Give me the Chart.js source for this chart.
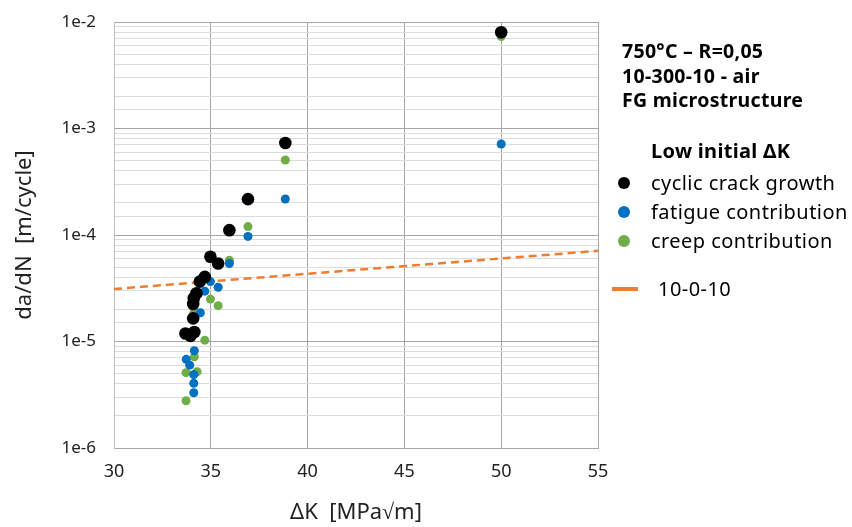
<!DOCTYPE html>
<html>
<head>
<meta charset="utf-8">
<script src="https://cdn.jsdelivr.net/npm/chart.js@4.4.1/dist/chart.umd.min.js"></script>
<style>
  body { margin: 0; background: #fff; font-family: "Noto Sans", sans-serif; }
  #wrap { position: relative; width: 852px; height: 527px; }
  #note { position: absolute; left: 622px; top: 39px; font-weight: bold; font-size: 19.5px; letter-spacing: 0.3px; line-height: 24.5px; color: #000; }
  #legend { position: absolute; left: 612px; top: 136px; font-size: 20px; letter-spacing: 0.45px; color: #000; }
  #legend .head { font-weight: bold; margin-left: 39px; height: 32px; line-height: 29px; letter-spacing: 0.3px; }
  #legend .item { height: 29px; line-height: 29px; display: flex; align-items: center; }
  #legend .dot { width: 12px; height: 12px; border-radius: 50%; margin-left: 6px; margin-right: 21px; }
  #legend .line { width: 26px; height: 4px; margin-top: 1px; margin-right: 20px; }
</style>
</head>
<body>
<div id="wrap">
  <canvas id="chart" width="852" height="527"></canvas>
  <div id="note">750°C – R=0,05<br>10-300-10 - air<br>FG microstructure</div>
  <div id="legend"></div>
</div>
<script>
// ΔK [MPa√m] and da/dN [m/cycle]
const cyclicX = [50.0, 38.85, 36.92, 35.96, 34.98, 35.38, 34.69, 34.43, 34.26, 34.12, 34.09, 34.09, 33.69, 33.95, 34.15];
const cyclicY = [8.0e-3, 7.3e-4, 2.17e-4, 1.11e-4, 6.25e-5, 5.4e-5, 4.04e-5, 3.65e-5, 2.84e-5, 2.55e-5, 2.25e-5, 1.65e-5, 1.19e-5, 1.13e-5, 1.23e-5];

const fatigueX = [50.0, 38.85, 36.92, 35.96, 35.38, 34.98, 34.69, 34.46, 34.15, 33.73, 33.91, 34.12, 34.12, 34.12];
const fatigueY = [7.15e-4, 2.18e-4, 9.7e-5, 5.4e-5, 3.23e-5, 3.65e-5, 2.97e-5, 1.86e-5, 8.2e-6, 6.8e-6, 6.0e-6, 4.9e-6, 4.05e-6, 3.3e-6];

const creepX = [50.0, 38.85, 36.92, 35.96, 35.38, 34.98, 34.12, 34.12, 34.69, 34.15, 33.72, 34.29, 33.72];
const creepY = [7.3e-3, 5.06e-4, 1.2e-4, 5.8e-5, 2.17e-5, 2.5e-5, 1.84e-5, 1.2e-5, 1.03e-5, 7.2e-6, 5.1e-6, 5.2e-6, 2.78e-6];

const refX = [30, 55];
const refY = [3.11e-5, 7.1e-5];

const xTicks = [30, 35, 40, 45, 50, 55];
const yTickLabels = ['1e-6', '1e-5', '1e-4', '1e-3', '1e-2'];

const legendTitle = 'Low initial ΔK';
const zip = (xs, ys) => xs.map((x, i) => ({ x, y: ys[i] }));

const datasets = [
  { label: 'cyclic crack growth', data: zip(cyclicX, cyclicY), backgroundColor: '#000000', borderColor: '#000000', pointRadius: 6.3, pointBorderWidth: 0 },
  { label: 'fatigue contribution', data: zip(fatigueX, fatigueY), backgroundColor: '#0070C0', borderColor: '#0070C0', pointRadius: 4.5, pointBorderWidth: 0 },
  { label: 'creep contribution', data: zip(creepX, creepY), backgroundColor: '#70AD47', borderColor: '#70AD47', pointRadius: 4.5, pointBorderWidth: 0 },
  { label: '10-0-10', type: 'line', data: zip(refX, refY), borderColor: '#ED7D31', borderWidth: 2.5, borderDash: [8, 5], pointRadius: 0, fill: false }
];

const isMajor = v => Math.abs(Math.log10(v) - Math.round(Math.log10(v))) < 1e-9;

const chart = new Chart(document.getElementById('chart'), {
  type: 'scatter',
  data: { datasets },
  options: {
    responsive: false,
    animation: false,
    layout: { padding: { left: 0, right: 254, top: 22, bottom: 0 } },
    plugins: { legend: { display: false }, tooltip: { enabled: false } },
    scales: {
      x: {
        type: 'linear', min: 30, max: 55,
        afterBuildTicks: s => { s.ticks = xTicks.map(v => ({ value: v })); },
        afterFit: s => { s.height = 79; },
        grid: { color: '#A6A6A6', lineWidth: 1, drawTicks: false },
        border: { color: '#A6A6A6' },
        ticks: { color: '#222', font: { family: 'Noto Sans', size: 18 }, padding: 13 },
        title: { display: true, text: 'ΔK  [MPa√m]', color: '#222', font: { family: 'Noto Sans', size: 22 }, padding: { top: 4, bottom: 1 } }
      },
      y: {
        type: 'logarithmic', min: 1e-6, max: 1e-2,
        afterFit: s => { s.width = 114; },
        grid: {
          color: c => isMajor(c.tick.value) ? '#A6A6A6' : '#DCDCDC',
          lineWidth: 1, drawTicks: true, tickLength: 14, tickColor: 'rgba(0,0,0,0)'
        },
        border: { color: '#BFBFBF' },
        ticks: {
          autoSkip: false, color: '#222', font: { family: 'Noto Sans', size: 17 }, padding: 4,
          callback: v => isMajor(v) ? yTickLabels[Math.round(Math.log10(v)) + 6] : ''
        },
        title: { display: true, text: 'da/dN  [m/cycle]', color: '#222', font: { family: 'Noto Sans', size: 22 }, padding: { top: 12, bottom: 0 } }
      }
    }
  }
});

// legend drawn from the chart's datasets
const leg = document.getElementById('legend');
const head = document.createElement('div');
head.className = 'head';
head.textContent = legendTitle;
leg.appendChild(head);
chart.data.datasets.forEach(ds => {
  const row = document.createElement('div');
  row.className = 'item';
  const mark = document.createElement('span');
  if (ds.type === 'line') {
    mark.className = 'line';
    mark.style.background = ds.borderColor;
    row.style.marginTop = '19px';
  } else {
    mark.className = 'dot';
    mark.style.background = ds.backgroundColor;
  }
  const txt = document.createElement('span');
  txt.textContent = ds.label;
  row.appendChild(mark);
  row.appendChild(txt);
  leg.appendChild(row);
});
</script>
</body>
</html>
